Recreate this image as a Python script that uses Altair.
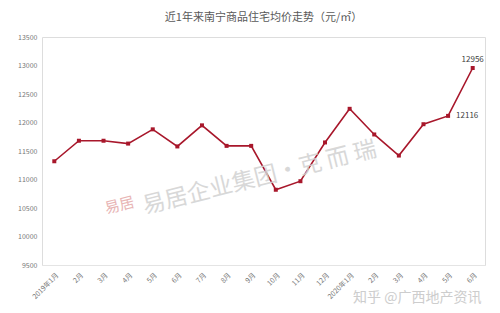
import altair as alt
import pandas as pd

months = ["2019年1月", "2月", "3月", "4月", "5月", "6月", "7月", "8月", "9月", "10月", "11月", "12月",
          "2020年1月", "2月 ", "3月 ", "4月 ", "5月 ", "6月 "]
prices = [11320, 11680, 11680, 11630, 11880, 11580, 11950, 11590, 11590, 10820, 10970, 11650,
          12240, 11790, 11420, 11970, 12116, 12956]
label_right = ["", "", "", "", "", "", "", "", "", "", "", "", "", "", "", "", "12116", ""]
label_top = ["", "", "", "", "", "", "", "", "", "", "", "", "", "", "", "", "", "12956"]

df = pd.DataFrame({"m": months, "v": prices, "lr": label_right, "lt": label_top})
color = "#A8172B"

x = alt.X("m:N", sort=months, title=None,
          scale=alt.Scale(type="point", padding=0.5),
          axis=alt.Axis(labelAngle=-45, labelAlign="right", labelBaseline="top", labelFontSize=7,
                        labelColor="#777777", ticks=False, domainColor="#e4e4e4", labelPadding=6,
                        labelFont="Noto Sans CJK SC"))
y = alt.Y("v:Q", title=None, scale=alt.Scale(domain=[9500, 13500], nice=False, zero=False),
          axis=alt.Axis(values=list(range(9500, 14000, 500)), grid=False, domain=False, ticks=False,
                        labelFontSize=7, labelColor="#777777", labelPadding=5, format="d",
                        labelFont="Noto Sans CJK SC"))

base = alt.Chart(df)
line = base.mark_line(color=color, strokeWidth=1.6).encode(x=x, y=y)
pts = base.mark_square(color=color, size=16, opacity=1).encode(x=x, y=y)
tr = base.mark_text(align="left", dx=8, fontSize=8, color="#404040", font="Noto Sans CJK SC").encode(x=x, y=y, text="lr:N")
tt = base.mark_text(baseline="bottom", dy=-4, fontSize=8, color="#404040", font="Noto Sans CJK SC").encode(x=x, y=y, text="lt:N")

wm_stamp = alt.Chart(pd.DataFrame({"t": ["易居"]})).mark_text(
    fontSize=15, color="#e3a3a3", opacity=0.8, angle=346, align="left", font="Noto Sans CJK SC"
).encode(x=alt.value(63), y=alt.value(172), text="t:N")
wm1 = alt.Chart(pd.DataFrame({"t": ["易居企业集团·克 而 瑞"]})).mark_text(
    fontSize=23, color="#d2d2d2", opacity=0.85, angle=346, align="left", font="Noto Sans CJK SC"
).encode(x=alt.value(101), y=alt.value(170), text="t:N")
wm2 = alt.Chart(pd.DataFrame({"t": ["知乎 @广西地产资讯"]})).mark_text(
    fontSize=14, color="#c8c8c8", opacity=0.9, align="left", font="Noto Sans CJK SC"
).encode(x=alt.value(311), y=alt.value(261), text="t:N")

chart = alt.layer(line, pts, tr, tt, wm_stamp, wm1, wm2).properties(
    width=443, height=228,
    title=alt.TitleParams("近1年来南宁商品住宅均价走势（元/㎡）", fontSize=11, color="#595959",
                          fontWeight="normal", font="Noto Sans CJK SC", offset=10, anchor="middle"),
    autosize=alt.AutoSizeParams(type="none"),
    padding={"left": 42, "top": 37, "right": 15, "bottom": 48},
).configure_view(stroke=None).configure(background="white")

chart.save("out.html", embed_options={"renderer": "svg", "actions": False})
